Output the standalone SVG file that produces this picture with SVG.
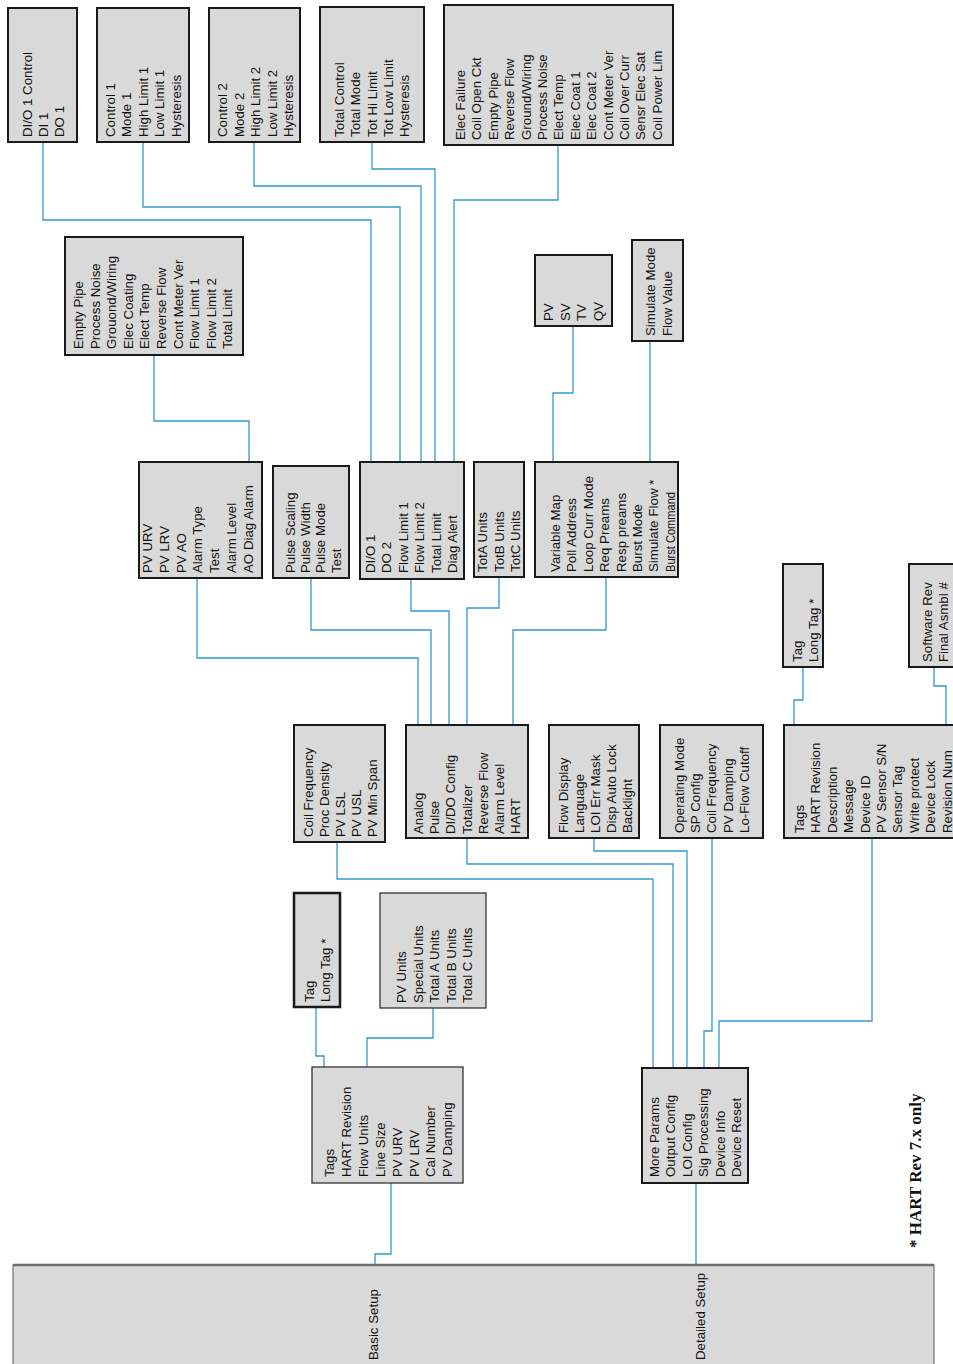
<svg xmlns="http://www.w3.org/2000/svg" width="953" height="1364" viewBox="0 0 953 1364">
<style>
.b{fill:#d9d9d9;stroke:#1a1a1a;stroke-width:2}
.bt{fill:#d9d9d9;stroke:#333;stroke-width:1.3}
.t{font-family:"Liberation Sans",Arial,sans-serif;font-size:13.3px;fill:#111}
.c polyline{fill:none;stroke:#3399cc;stroke-width:1.3}
.note{font-family:"Liberation Serif","Times New Roman",serif;font-size:17px;font-weight:bold;fill:#111}
</style>
<rect width="953" height="1364" fill="#fff"/>
<g class="c" id="connectors">
<polyline points="43,142 43,220 371,220 371,462"/>
<polyline points="143,142 143,207 400,207 400,462"/>
<polyline points="254,142 254,186 421,186 421,462"/>
<polyline points="372,142 372,169 435,169 435,462"/>
<polyline points="558,145 558,200 454,200 454,462"/>
<polyline points="154,355 154,421 249,421 249,462"/>
<polyline points="573,326 573,393 553,393 553,462"/>
<polyline points="650,341 650,462"/>
<polyline points="197,578 197,658 418,658 418,725"/>
<polyline points="311,578 311,630 431,630 431,725"/>
<polyline points="411,579 411,611 449,611 449,725"/>
<polyline points="499,577 499,608 467,608 467,725"/>
<polyline points="606,577 606,630 513,630 513,725"/>
<polyline points="803,667 803,700 794,700 794,725"/>
<polyline points="934,667 934,686 946,686 946,725"/>
<polyline points="337,842 337,879 653,879 653,1068"/>
<polyline points="467,838 467,864 673,864 673,1068"/>
<polyline points="594,838 594,851 687,851 687,1068"/>
<polyline points="712,838 712,1031 704,1031 704,1068"/>
<polyline points="872,838 872,1021 719,1021 719,1068"/>
<polyline points="316,1007 316,1056 324,1056 324,1067"/>
<polyline points="433,1008 433,1038 367,1038 367,1067"/>
<polyline points="391,1183 391,1254 375,1254 375,1265"/>
<polyline points="696,1183 696,1265"/>
</g>

<g id="dio1control"><rect class="b" x="8" y="8" width="69" height="134"/>
<text class="t" transform="translate(32,137) rotate(-90)"><tspan x="0" y="0">DI/O 1 Control</tspan><tspan x="0" dy="16">DI 1</tspan><tspan x="0" dy="16">DO 1</tspan></text></g>

<g id="control1"><rect class="b" x="97" y="8" width="92" height="134"/>
<text class="t" transform="translate(115,137) rotate(-90)"><tspan x="0" y="0">Control 1</tspan><tspan x="0" dy="16.4">Mode 1</tspan><tspan x="0" dy="16.4">High Limit 1</tspan><tspan x="0" dy="16.4">Low Limit 1</tspan><tspan x="0" dy="16.4">Hysteresis</tspan></text></g>

<g id="control2"><rect class="b" x="209" y="8" width="91" height="134"/>
<text class="t" transform="translate(227,137) rotate(-90)"><tspan x="0" y="0">Control 2</tspan><tspan x="0" dy="16.5">Mode 2</tspan><tspan x="0" dy="16.5">High Limit 2</tspan><tspan x="0" dy="16.5">Low Limit 2</tspan><tspan x="0" dy="16.5">Hysteresis</tspan></text></g>

<g id="totalcontrol"><rect class="b" x="320" y="7" width="104" height="135"/>
<text class="t" transform="translate(344,137) rotate(-90)"><tspan x="0" y="0">Total Control</tspan><tspan x="0" dy="16.3">Total Mode</tspan><tspan x="0" dy="16.3">Tot Hi Limit</tspan><tspan x="0" dy="16.3">Tot Low Limit</tspan><tspan x="0" dy="16.3">Hysteresis</tspan></text></g>

<g id="elecfailure"><rect class="b" x="444" y="5" width="229" height="140"/>
<text class="t" transform="translate(465,140) rotate(-90)"><tspan x="0" y="0">Elec Failure</tspan><tspan x="0" dy="16.4">Coil Open Ckt</tspan><tspan x="0" dy="16.4">Empty Pipe</tspan><tspan x="0" dy="16.4">Reverse Flow</tspan><tspan x="0" dy="16.4">Ground/Wiring</tspan><tspan x="0" dy="16.4">Process Noise</tspan><tspan x="0" dy="16.4">Elect Temp</tspan><tspan x="0" dy="16.4">Elec Coat 1</tspan><tspan x="0" dy="16.4">Elec Coat 2</tspan><tspan x="0" dy="16.4">Cont Meter Ver</tspan><tspan x="0" dy="16.4">Coil Over Curr</tspan><tspan x="0" dy="16.4">Sensr Elec Sat</tspan><tspan x="0" dy="16.4">Coil Power Lim</tspan></text></g>

<g id="emptypipe"><rect class="b" x="65" y="237" width="178" height="118"/>
<text class="t" transform="translate(83,349) rotate(-90)"><tspan x="0" y="0">Empty Pipe</tspan><tspan x="0" dy="16.6">Process Noise</tspan><tspan x="0" dy="16.6">Grouond/Wiring</tspan><tspan x="0" dy="16.6">Elec Coating</tspan><tspan x="0" dy="16.6">Elect Temp</tspan><tspan x="0" dy="16.6">Reverse Flow</tspan><tspan x="0" dy="16.6">Cont Meter Ver</tspan><tspan x="0" dy="16.6">Flow Limit 1</tspan><tspan x="0" dy="16.6">Flow Limit 2</tspan><tspan x="0" dy="16.6">Total Limit</tspan></text></g>

<g id="pvsv"><rect class="b" x="535" y="255" width="77" height="71"/>
<text class="t" transform="translate(553,321) rotate(-90)"><tspan x="0" y="0">PV</tspan><tspan x="0" dy="16.7">SV</tspan><tspan x="0" dy="16.7">TV</tspan><tspan x="0" dy="16.7">QV</tspan></text></g>

<g id="simulatemode"><rect class="b" x="632" y="240" width="51" height="101"/>
<text class="t" transform="translate(655,336) rotate(-90)"><tspan x="0" y="0">Simulate Mode</tspan><tspan x="0" dy="16.5">Flow Value</tspan></text></g>

<g id="analog"><rect class="b" x="139" y="462" width="123" height="116"/>
<text class="t" transform="translate(152,573) rotate(-90)"><tspan x="0" y="0">PV URV</tspan><tspan x="0" dy="16.8">PV LRV</tspan><tspan x="0" dy="16.8">PV AO</tspan><tspan x="0" dy="16.8">Alarm Type</tspan><tspan x="0" dy="16.8">Test</tspan><tspan x="0" dy="16.8">Alarm Level</tspan><tspan x="0" dy="16.8">AO Diag Alarm</tspan></text></g>

<g id="pulse"><rect class="b" x="273" y="466" width="76" height="112"/>
<text class="t" transform="translate(295,573) rotate(-90)"><tspan x="0" y="0">Pulse Scaling</tspan><tspan x="0" dy="15.2">Pulse Width</tspan><tspan x="0" dy="15.2">Pulse Mode</tspan><tspan x="0" dy="15.2">Test</tspan></text></g>

<g id="dido"><rect class="b" x="360" y="462" width="104" height="117"/>
<text class="t" transform="translate(375,573) rotate(-90)"><tspan x="0" y="0">DI/O 1</tspan><tspan x="0" dy="16.4">DO 2</tspan><tspan x="0" dy="16.4">Flow Limit 1</tspan><tspan x="0" dy="16.4">Flow Limit 2</tspan><tspan x="0" dy="16.4">Total Limit</tspan><tspan x="0" dy="16.4">Diag Alert</tspan></text></g>

<g id="totalizer"><rect class="b" x="474" y="462" width="50" height="115"/>
<text class="t" transform="translate(487,572) rotate(-90)"><tspan x="0" y="0">TotA Units</tspan><tspan x="0" dy="16.5">TotB Units</tspan><tspan x="0" dy="16.5">TotC Units</tspan></text></g>

<g id="hart"><rect class="b" x="535" y="462" width="143" height="115"/>
<text class="t" transform="translate(560,572) rotate(-90)"><tspan x="0" y="0">Variable Map</tspan><tspan x="0" dy="16.4">Poll Address</tspan><tspan x="0" dy="16.4">Loop Curr Mode</tspan><tspan x="0" dy="16.4">Req Preams</tspan><tspan x="0" dy="16.4">Resp preams</tspan><tspan x="0" dy="16.4">Burst Mode</tspan><tspan x="0" dy="16.4">Simulate Flow *</tspan></text>
<text class="t" transform="translate(675,572) rotate(-90)" textLength="80" lengthAdjust="spacingAndGlyphs" x="0" y="0">Burst Command</text></g>

<g id="moreparams"><rect class="b" x="294" y="725" width="91" height="117"/>
<text class="t" transform="translate(313,837) rotate(-90)"><tspan x="0" y="0">Coil Frequency</tspan><tspan x="0" dy="16">Proc Density</tspan><tspan x="0" dy="16">PV LSL</tspan><tspan x="0" dy="16">PV USL</tspan><tspan x="0" dy="16">PV Min Span</tspan></text></g>

<g id="outputconfig"><rect class="b" x="406" y="725" width="122" height="113"/>
<text class="t" transform="translate(423,834) rotate(-90)"><tspan x="0" y="0">Analog</tspan><tspan x="0" dy="16.2">Pulse</tspan><tspan x="0" dy="16.2">DI/DO Config</tspan><tspan x="0" dy="16.2">Totalizer</tspan><tspan x="0" dy="16.2">Reverse Flow</tspan><tspan x="0" dy="16.2">Alarm Level</tspan><tspan x="0" dy="16.2">HART</tspan></text></g>

<g id="loiconfig"><rect class="b" x="549" y="725" width="90" height="113"/>
<text class="t" transform="translate(568,833) rotate(-90)"><tspan x="0" y="0">Flow Display</tspan><tspan x="0" dy="16">Language</tspan><tspan x="0" dy="16">LOI Err Mask</tspan><tspan x="0" dy="16">Disp Auto Lock</tspan><tspan x="0" dy="16">Backlight</tspan></text></g>

<g id="sigprocessing"><rect class="b" x="660" y="725" width="103" height="113"/>
<text class="t" transform="translate(684,833) rotate(-90)"><tspan x="0" y="0">Operating Mode</tspan><tspan x="0" dy="16.2">SP Config</tspan><tspan x="0" dy="16.2">Coil Frequency</tspan><tspan x="0" dy="16.2">PV Damping</tspan><tspan x="0" dy="16.2">Lo-Flow Cutoff</tspan></text></g>

<g id="deviceinfo"><rect class="b" x="784" y="725" width="180" height="113"/>
<text class="t" transform="translate(804,833) rotate(-90)"><tspan x="0" y="0">Tags</tspan><tspan x="0" dy="16.4">HART Revision</tspan><tspan x="0" dy="16.4">Description</tspan><tspan x="0" dy="16.4">Message</tspan><tspan x="0" dy="16.4">Device ID</tspan><tspan x="0" dy="16.4">PV Sensor S/N</tspan><tspan x="0" dy="16.4">Sensor Tag</tspan><tspan x="0" dy="16.4">Write protect</tspan><tspan x="0" dy="16.4">Device Lock</tspan><tspan x="0" dy="16.4">Revision Num</tspan></text></g>

<g id="tags2"><rect class="b" x="783" y="564" width="40" height="103"/>
<text class="t" transform="translate(802,662) rotate(-90)"><tspan x="0" y="0">Tag</tspan><tspan x="0" dy="16">Long Tag  *</tspan></text></g>

<g id="revisionnum"><rect class="b" x="909" y="564" width="60" height="103"/>
<text class="t" transform="translate(932,662) rotate(-90)"><tspan x="0" y="0">Software Rev</tspan><tspan x="0" dy="16">Final Asmbl #</tspan></text></g>

<g id="tags1"><rect class="b" x="294" y="893" width="46" height="114" style="stroke-width:2.5"/>
<text class="t" transform="translate(314,1002) rotate(-90)"><tspan x="0" y="0">Tag</tspan><tspan x="0" dy="16">Long Tag  *</tspan></text></g>

<g id="flowunits"><rect class="bt" x="380" y="893" width="106" height="115"/>
<text class="t" transform="translate(406,1003) rotate(-90)"><tspan x="0" y="0">PV Units</tspan><tspan x="0" dy="16.5">Special Units</tspan><tspan x="0" dy="16.5">Total A Units</tspan><tspan x="0" dy="16.5">Total B Units</tspan><tspan x="0" dy="16.5">Total C Units</tspan></text></g>

<g id="basicsetup"><rect class="bt" x="312" y="1067" width="151" height="116"/>
<text class="t" transform="translate(334,1177) rotate(-90)"><tspan x="0" y="0">Tags</tspan><tspan x="0" dy="16.9">HART Revision</tspan><tspan x="0" dy="16.9">Flow Units</tspan><tspan x="0" dy="16.9">Line Size</tspan><tspan x="0" dy="16.9">PV URV</tspan><tspan x="0" dy="16.9">PV LRV</tspan><tspan x="0" dy="16.9">Cal Number</tspan><tspan x="0" dy="16.9">PV Damping</tspan></text></g>

<g id="detailedsetup"><rect class="b" x="642" y="1068" width="106" height="115"/>
<text class="t" transform="translate(659,1177) rotate(-90)"><tspan x="0" y="0">More Params</tspan><tspan x="0" dy="16.4">Output Config</tspan><tspan x="0" dy="16.4">LOI Config</tspan><tspan x="0" dy="16.4">Sig Processing</tspan><tspan x="0" dy="16.4">Device Info</tspan><tspan x="0" dy="16.4">Device Reset</tspan></text></g>

<g id="root"><rect x="13" y="1265" width="921" height="110" fill="#d9d9d9" stroke="#777" stroke-width="1.2"/>
<line x1="13" y1="1265" x2="934" y2="1265" stroke="#6e6e6e" stroke-width="2.5"/>
<text class="t" transform="translate(378,1360) rotate(-90)" x="0" y="0">Basic Setup</text>
<text class="t" transform="translate(705,1360) rotate(-90)" x="0" y="0">Detailed Setup</text></g>

<text class="note" transform="translate(921,1248) rotate(-90)" x="0" y="0">* HART Rev 7.x only</text>
</svg>
